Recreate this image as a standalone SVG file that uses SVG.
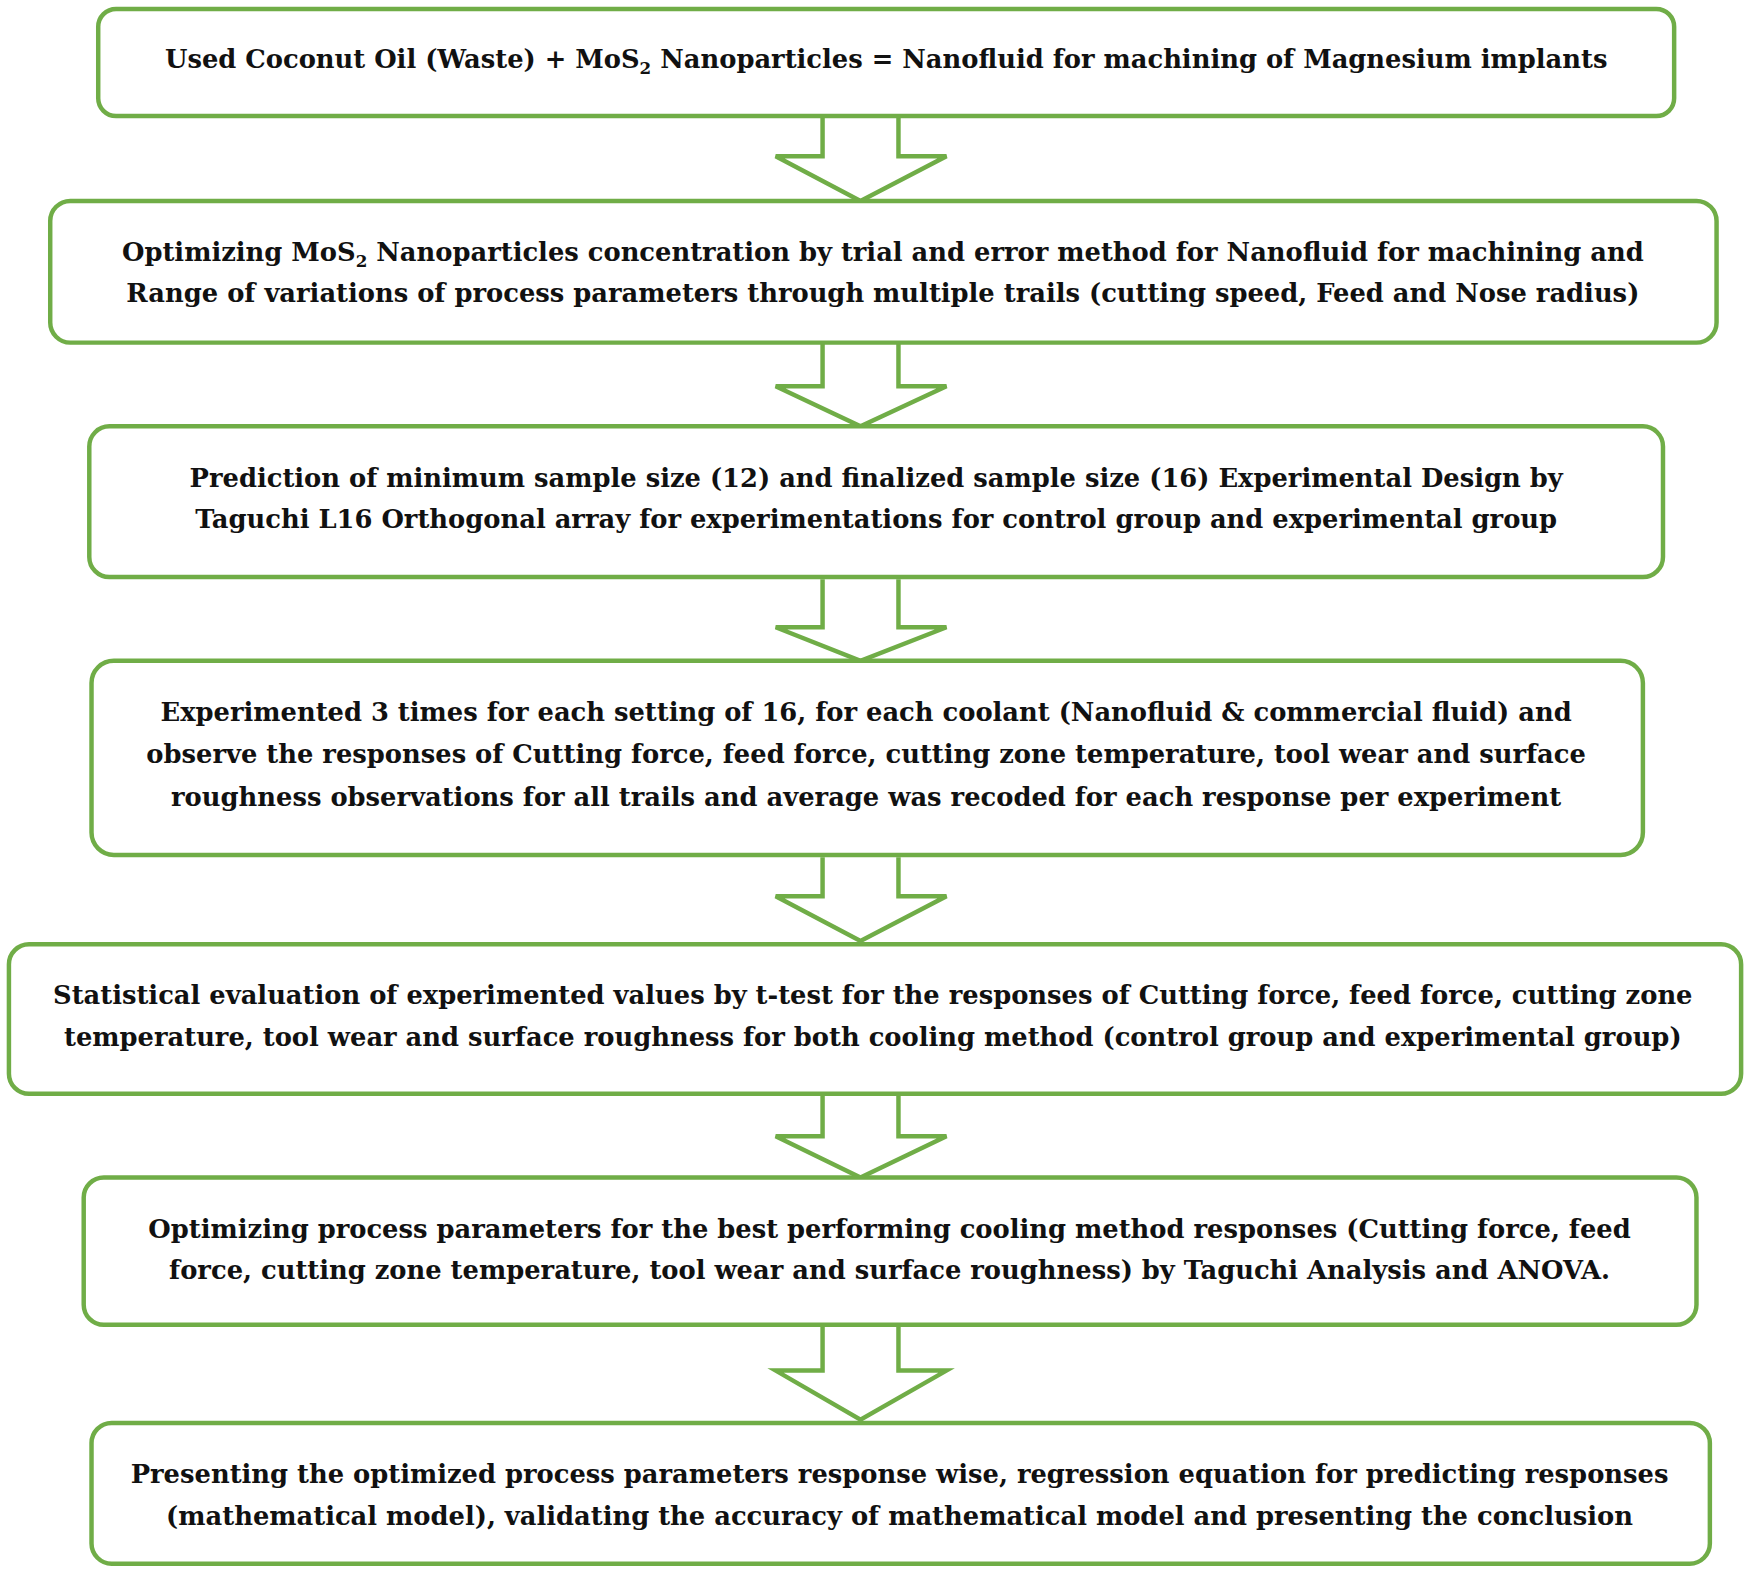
<svg xmlns="http://www.w3.org/2000/svg" width="1750" height="1573" viewBox="0 0 1750 1573">
<style>
.b{fill:#fff;stroke:#70ad47;stroke-width:4}
.a{fill:#fff;stroke:#70ad47;stroke-width:4;stroke-linejoin:miter}
text{font-family:"DejaVu Serif","Liberation Serif",serif;font-weight:bold;font-size:23.1px;fill:#111;text-anchor:middle}
</style>
<rect width="1750" height="1573" fill="#fff"/>
<g transform="scale(1.1161)">
<g id="connectors">
<path class="a" d="M737,104 V140 H695 L771,180 L848,140 H805 V104"/>
<path class="a" d="M737,307 V346 H695 L771,382 L848,346 H805 V307"/>
<path class="a" d="M737,519 V562 H695 L771,592 L848,562 H805 V519"/>
<path class="a" d="M737,768 V803 H695 L771,843 L848,803 H805 V768"/>
<path class="a" d="M737,982 V1018 H695 L771,1055 L848,1018 H805 V982"/>
<path class="a" d="M737,1189 V1228 H695 L771,1272 L848,1228 H805 V1189"/>
</g>
<g id="n1"><rect class="b" x="88" y="8" width="1412" height="96" rx="16"/>
<text x="794" y="61">Used Coconut Oil (Waste) + MoS<tspan font-size="15" dy="5">2</tspan><tspan dy="-5"> Nanoparticles = Nanofluid for machining of Magnesium implants</tspan></text></g>
<g id="n2"><rect class="b" x="45" y="180" width="1493" height="127" rx="18"/>
<text x="791" y="234">Optimizing MoS<tspan font-size="15" dy="5">2</tspan><tspan dy="-5"> Nanoparticles concentration by trial and error method for Nanofluid for machining and</tspan></text>
<text x="791" y="271">Range of variations of process parameters through multiple trails (cutting speed, Feed and Nose radius)</text></g>
<g id="n3"><rect class="b" x="80" y="382" width="1410" height="135" rx="18"/>
<text x="785" y="436">Prediction of minimum sample size (12) and finalized sample size (16) Experimental Design by</text>
<text x="785" y="473">Taguchi L16 Orthogonal array for experimentations for control group and experimental group</text></g>
<g id="n4"><rect class="b" x="82" y="592" width="1390" height="174" rx="20"/>
<text x="776" y="646">Experimented 3 times for each setting of 16, for each coolant (Nanofluid &amp; commercial fluid) and</text>
<text x="776" y="684">observe the responses of Cutting force, feed force, cutting zone temperature, tool wear and surface</text>
<text x="776" y="722">roughness observations for all trails and average was recoded for each response per experiment</text></g>
<g id="n5"><rect class="b" x="8" y="846" width="1552" height="134" rx="18"/>
<text x="782" y="900">Statistical evaluation of experimented values by t-test for the responses of Cutting force, feed force, cutting zone</text>
<text x="782" y="937">temperature, tool wear and surface roughness for both cooling method (control group and experimental group)</text></g>
<g id="n6"><rect class="b" x="75" y="1055" width="1445" height="132" rx="18"/>
<text x="797" y="1109">Optimizing process parameters for the best performing cooling method responses (Cutting force, feed</text>
<text x="797" y="1146">force, cutting zone temperature, tool wear and surface roughness) by Taguchi Analysis and ANOVA.</text></g>
<g id="n7"><rect class="b" x="82" y="1275" width="1450" height="126" rx="18"/>
<text x="806" y="1329">Presenting the optimized process parameters response wise, regression equation for predicting responses</text>
<text x="806" y="1366">(mathematical model), validating the accuracy of mathematical model and presenting the conclusion</text></g>
</g>
</svg>
